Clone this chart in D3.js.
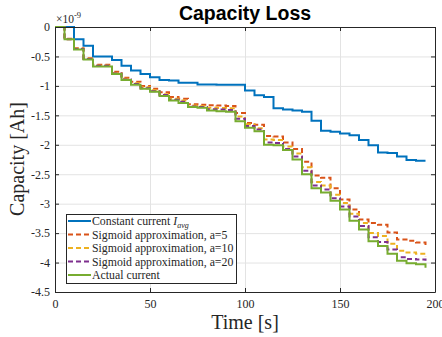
<!DOCTYPE html>
<html>
<head>
<meta charset="utf-8">
<script src="https://cdn.jsdelivr.net/npm/d3@7"></script>
<style>
  body { margin: 0; background: #fff; }
  svg { display: block; }
</style>
</head>
<body>
<svg id="chart" width="442" height="337"></svg>
<script>
// Time samples [s]
const time = [0, 5, 10, 15, 20, 25, 30, 35, 40, 45, 50, 55, 60, 65, 70, 75, 80, 85, 90, 95,
              100, 105, 110, 115, 120, 125, 130, 135, 140, 145, 150, 155, 160, 165, 170, 175, 180, 185, 190, 195];

// Capacity [x 1e-9 Ah]
const constantCurrent = [0, 0, -0.21, -0.32, -0.50, -0.50, -0.56, -0.66, -0.74, -0.80,
  -0.855, -0.90, -0.91, -0.945, -0.945, -0.975, -0.975, -0.98, -0.98, -0.98,
  -1.08, -1.16, -1.19, -1.38, -1.40, -1.42, -1.44, -1.59, -1.76, -1.78,
  -1.81, -1.84, -1.92, -2.01, -2.13, -2.14, -2.20, -2.26, -2.27, -2.27];

const sigmoidA5 = [0, -0.20, -0.36, -0.53, -0.64, -0.64, -0.76, -0.86, -0.93, -1.00,
  -1.05, -1.11, -1.19, -1.22, -1.31, -1.32, -1.33, -1.335, -1.34, -1.46,
  -1.63, -1.66, -1.85, -1.86, -1.96, -2.07, -2.29, -2.52, -2.56, -2.74,
  -2.93, -3.10, -3.27, -3.33, -3.36, -3.49, -3.61, -3.63, -3.66, -3.70];

const sigmoidA10 = [0, -0.21, -0.37, -0.54, -0.655, -0.655, -0.78, -0.88, -0.955, -1.025,
  -1.075, -1.14, -1.22, -1.25, -1.335, -1.345, -1.37, -1.375, -1.38, -1.52,
  -1.65, -1.72, -1.91, -1.92, -2.03, -2.15, -2.38, -2.63, -2.69, -2.85,
  -2.99, -3.17, -3.33, -3.50, -3.55, -3.68, -3.80, -3.83, -3.85, -3.90];

const sigmoidA20 = [0, -0.21, -0.375, -0.545, -0.66, -0.66, -0.79, -0.89, -0.97, -1.04,
  -1.09, -1.155, -1.235, -1.27, -1.35, -1.36, -1.395, -1.40, -1.41, -1.56,
  -1.68, -1.74, -1.96, -1.97, -2.07, -2.20, -2.44, -2.69, -2.76, -2.91,
  -3.05, -3.22, -3.38, -3.57, -3.65, -3.78, -3.91, -3.94, -3.95, -3.97];

const actualCurrent = [0, -0.21, -0.38, -0.55, -0.67, -0.67, -0.80, -0.90, -0.98, -1.05,
  -1.10, -1.17, -1.25, -1.29, -1.36, -1.37, -1.42, -1.43, -1.44, -1.60,
  -1.71, -1.77, -2.00, -2.01, -2.09, -2.25, -2.50, -2.74, -2.81, -2.95,
  -3.10, -3.29, -3.44, -3.64, -3.72, -3.85, -3.97, -4.01, -4.03, -4.09];

const xTicks = [0, 50, 100, 150, 200];
const yTicks = [0, -0.5, -1, -1.5, -2, -2.5, -3, -3.5, -4, -4.5];
const yTickLabels = ["0", "-0.5", "-1", "-1.5", "-2", "-2.5", "-3", "-3.5", "-4", "-4.5"];

const seriesNames = ["Constant current", "Sigmoid approximation, a=5",
  "Sigmoid approximation, a=10", "Sigmoid approximation, a=20", "Actual current"];
const seriesColors = ["#0072BD", "#D95319", "#EDB120", "#7E2F8E", "#77AC30"];
const seriesDash = [null, "5,3", "5,3", "5,3", null];
const seriesValues = [constantCurrent, sigmoidA5, sigmoidA10, sigmoidA20, actualCurrent];

const svg = d3.select("#chart");
const serif = "'Liberation Serif', 'DejaVu Serif', serif";
const axisColor = "#262626";

const plot = { left: 55, right: 435, top: 27, bottom: 292 };
const x = d3.scaleLinear().domain([0, 200]).range([plot.left, plot.right]);
const y = d3.scaleLinear().domain([-4.5, 0]).range([plot.bottom, plot.top]);

// grid
const grid = svg.append("g").attr("stroke", "#e3e3e3").attr("stroke-width", 1);
grid.selectAll("line.gx").data(xTicks).join("line")
  .attr("x1", d => x(d) + 0.5).attr("x2", d => x(d) + 0.5)
  .attr("y1", plot.top).attr("y2", plot.bottom);
grid.selectAll("line.gy").data(yTicks).join("line")
  .attr("y1", d => y(d) + 0.5).attr("y2", d => y(d) + 0.5)
  .attr("x1", plot.left).attr("x2", plot.right);

// series (stairs)
const line = d3.line()
  .x((d, i) => x(time[i]))
  .y(d => y(d))
  .curve(d3.curveStepAfter);

seriesValues.forEach((vals, k) => {
  svg.append("path")
    .datum(vals)
    .attr("fill", "none")
    .attr("stroke", seriesColors[k])
    .attr("stroke-width", 2)
    .attr("stroke-dasharray", seriesDash[k])
    .attr("d", line);
});

// axes with inward ticks on all four sides
function styleAxis(g) {
  g.attr("font-family", serif).attr("font-size", 12);
  g.select(".domain").attr("stroke", axisColor).attr("stroke-width", 1).attr("fill", "none");
  g.selectAll(".tick line").attr("stroke", axisColor);
  g.selectAll(".tick text").attr("fill", axisColor);
}

svg.append("g").attr("transform", `translate(0,${plot.bottom})`)
  .call(d3.axisBottom(x).tickValues(xTicks).tickSizeInner(-4).tickSizeOuter(0).tickPadding(7))
  .call(styleAxis);
svg.append("g").attr("transform", `translate(0,${plot.top})`)
  .call(d3.axisTop(x).tickValues(xTicks).tickSizeInner(-4).tickSizeOuter(0).tickFormat(""))
  .call(styleAxis);
svg.append("g").attr("transform", `translate(${plot.left},0)`)
  .call(d3.axisLeft(y).tickValues(yTicks).tickSizeInner(-4).tickSizeOuter(0).tickPadding(5)
    .tickFormat((d, i) => yTickLabels[i]))
  .call(styleAxis);
svg.append("g").attr("transform", `translate(${plot.right},0)`)
  .call(d3.axisRight(y).tickValues(yTicks).tickSizeInner(-4).tickSizeOuter(0).tickFormat(""))
  .call(styleAxis);

// exponent of the y axis
const expo = svg.append("text").attr("x", 56).attr("y", 23)
  .attr("fill", axisColor).style("font-family", serif).style("font-size", "11.5px");
expo.append("tspan").text("×10");
expo.append("tspan").attr("dy", -5).style("font-size", "8.5px").text("-9");

// title
svg.append("text").attr("x", 245).attr("y", 20).attr("text-anchor", "middle")
  .style("font-family", "'Liberation Sans', Arial, sans-serif")
  .style("font-weight", "bold").style("font-size", "19.5px").attr("fill", "#000")
  .text("Capacity Loss");

// axis labels
svg.append("text").attr("x", 245).attr("y", 329).attr("text-anchor", "middle")
  .style("font-family", serif).style("font-size", "20px").attr("fill", axisColor)
  .text("Time [s]");
svg.append("text").attr("transform", "translate(24,159) rotate(-90)")
  .attr("text-anchor", "middle")
  .style("font-family", serif).style("font-size", "20px").attr("fill", axisColor)
  .text("Capacity [Ah]");

// legend
const leg = svg.append("g");
leg.append("rect").attr("x", 66.5).attr("y", 214.5).attr("width", 170).attr("height", 69)
  .attr("fill", "#fff").attr("stroke", axisColor).attr("stroke-width", 1);
seriesNames.forEach((name, k) => {
  const yy = 221 + k * 13.5;
  leg.append("line").attr("x1", 68).attr("x2", 91).attr("y1", yy).attr("y2", yy)
    .attr("stroke", seriesColors[k]).attr("stroke-width", 2)
    .attr("stroke-dasharray", seriesDash[k]);
  const t = leg.append("text").attr("x", 92).attr("y", yy).attr("dy", "0.35em")
    .style("font-family", serif).style("font-size", "11.8px").attr("fill", axisColor);
  t.append("tspan").text(name + " ");
  if (k === 0) {
    t.append("tspan").style("font-style", "italic").text("I");
    t.append("tspan").attr("dy", 2.5).style("font-style", "italic").style("font-size", "8px").text("avg");
  }
});
</script>
</body>
</html>
